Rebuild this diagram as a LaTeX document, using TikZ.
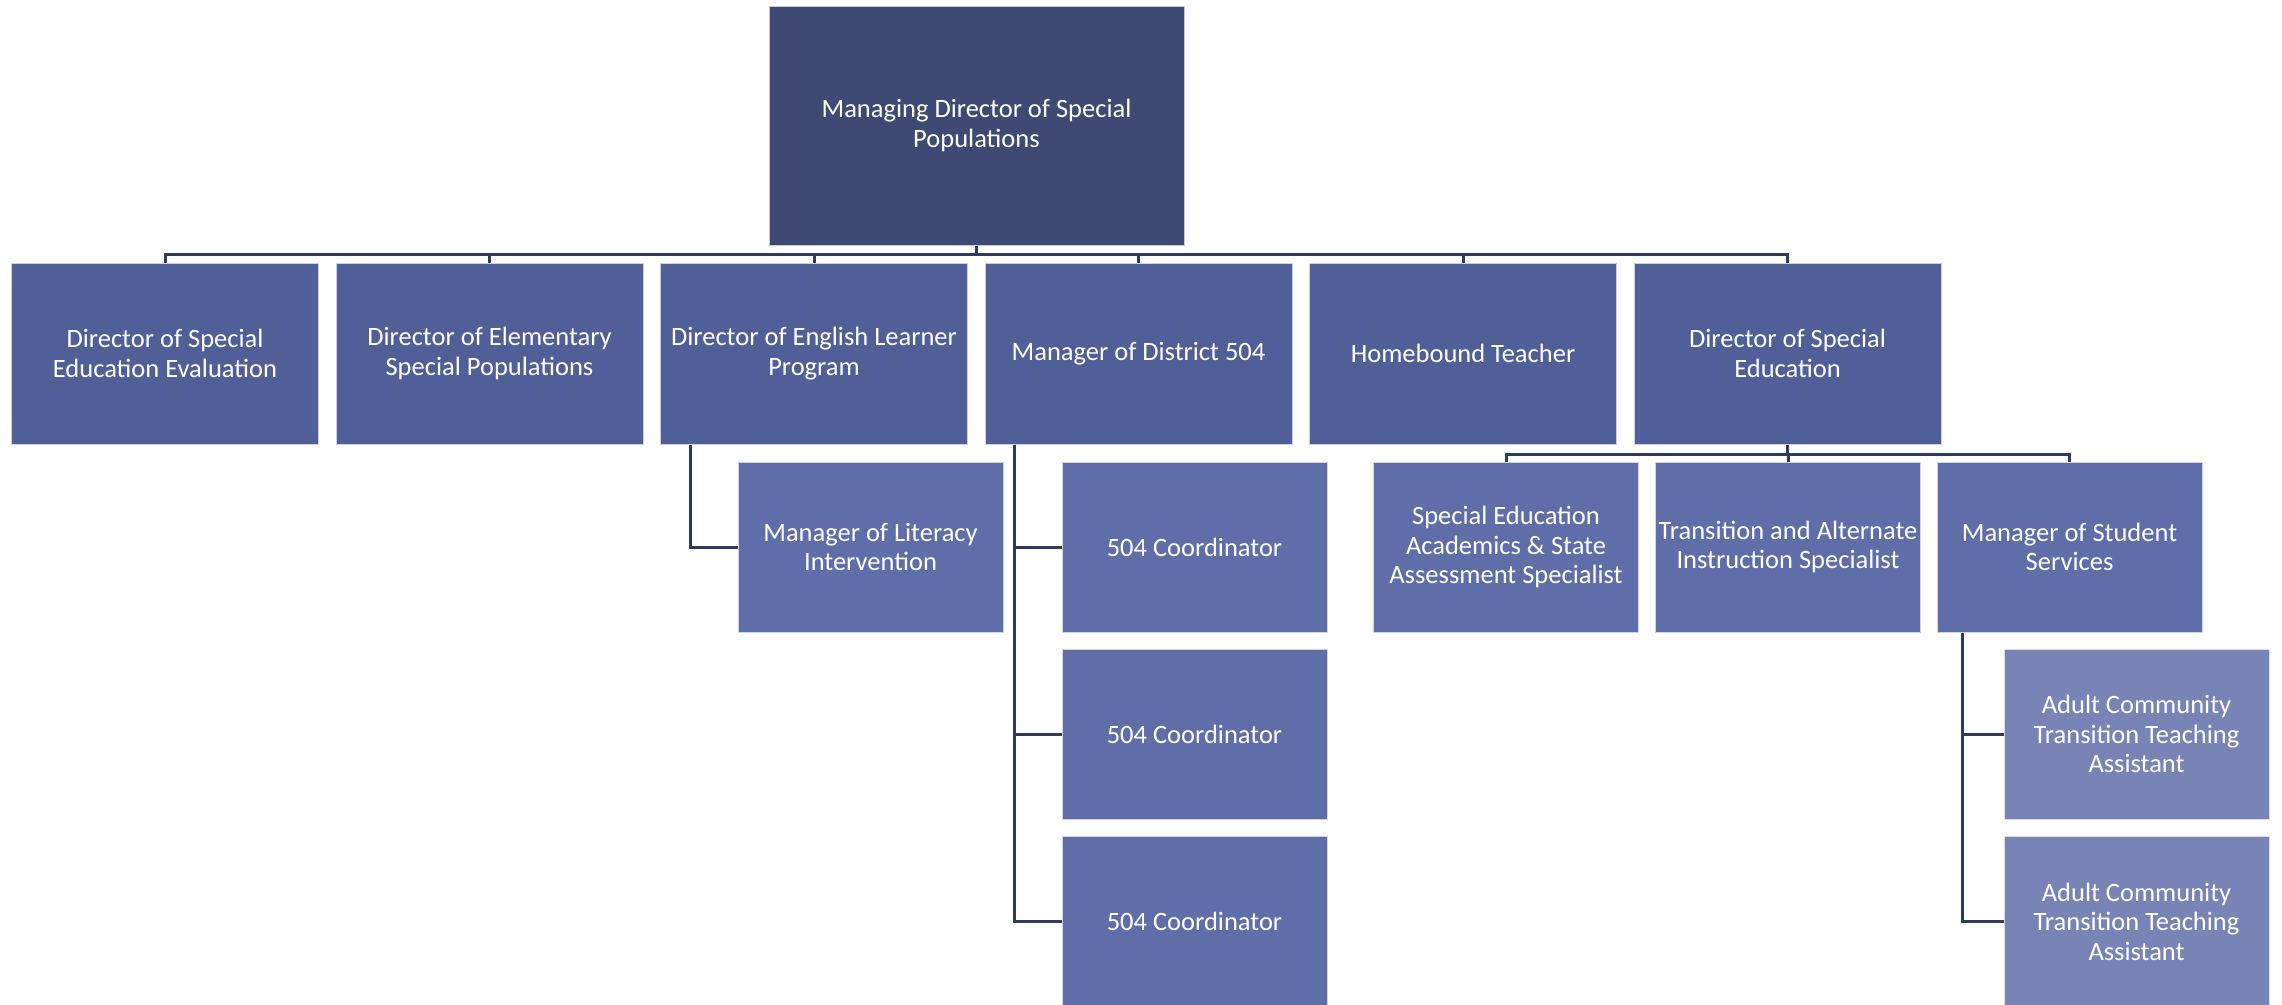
\documentclass[tikz,border=0pt]{standalone}
\usepackage{fontspec}
\setmainfont{Carlito}
\usepackage{tikz}
\usetikzlibrary{calc,positioning}
\definecolor{topblue}{HTML}{3E4A74}
\definecolor{midblue}{HTML}{505F98}
\definecolor{lowblue}{HTML}{5F6EA8}
\definecolor{paleblue}{HTML}{7883B6}
\definecolor{linkblue}{HTML}{2E3A5E}
\tikzset{
   org node/.style={rectangle,text=white,align=center,inner sep=0pt,line width=1pt,
                    font=\fontsize{26.5}{29.5}\selectfont},
   head node/.style={org node,fill=topblue,draw=white!70!topblue,minimum width=415pt,minimum height=239pt},
   director node/.style={org node,fill=midblue,draw=white!70!midblue,minimum width=307pt,minimum height=181pt},
   staff node/.style={org node,fill=lowblue,draw=white!70!lowblue,minimum width=265pt,minimum height=170pt},
   assistant node/.style={org node,fill=paleblue,draw=white!70!paleblue,minimum width=265pt,minimum height=170pt},
   link/.style={draw=linkblue,line width=3pt}
}

\begin{document}
\begin{tikzpicture}[x=1pt,y=-1pt]
\useasboundingbox (0,0) rectangle (2282,1004);
% head
\node[head node] (mdsp) at (976.5,125.5) {Managing Director of Special\\Populations};
% directors
\node[director node] (dsee) at (165,353.5)    {Director of Special\\Education Evaluation};
\node[director node] (desp) at (489.5,353.5)  {Director of Elementary\\Special Populations};
\node[director node] (delp) at (814,353.5)    {Director of English Learner\\Program};
\node[director node] (m504) at (1138.5,353.5) {Manager of District 504};
\node[director node] (home) at (1463,353.5)   {Homebound Teacher};
\node[director node] (dse)  at (1787.5,353.5) {Director of Special\\Education};
% staff
\node[staff node] (lit)   at (870.5,547)  {Manager of Literacy\\Intervention};
\node[staff node] (c1)    at (1194.5,547) {504 Coordinator};
\node[staff node] (c2)    at (1194.5,734) {504 Coordinator};
\node[staff node] (c3)    at (1194.5,921.5) {504 Coordinator};
\node[staff node] (seasa) at (1506,547)   {Special Education\\Academics \& State\\Assessment Specialist};
\node[staff node] (tais)  at (1788,547)   {Transition and Alternate\\Instruction Specialist};
\node[staff node] (mss)   at (2069.5,547) {Manager of Student\\Services};
\node[assistant node] (act1) at (2136.5,734)   {Adult Community\\Transition Teaching\\Assistant};
\node[assistant node] (act2) at (2136.5,921.5) {Adult Community\\Transition Teaching\\Assistant};
%
\foreach \d in {dsee,desp,delp,m504,home,dse}
  \draw[link] (mdsp.south) -- ++(0,9) -| (\d.north);
\foreach \s in {seasa,tais,mss}
  \draw[link] (dse.south) -- ++(0,10) -| (\s.north);
\draw[link] ([xshift=30pt]delp.south west) |- (lit.west);
\foreach \c in {c1,c2,c3}
  \draw[link] ([xshift=30pt]m504.south west) |- (\c.west);
\foreach \a in {act1,act2}
  \draw[link] ([xshift=26pt]mss.south west) |- (\a.west);
\end{tikzpicture}
\end{document}
